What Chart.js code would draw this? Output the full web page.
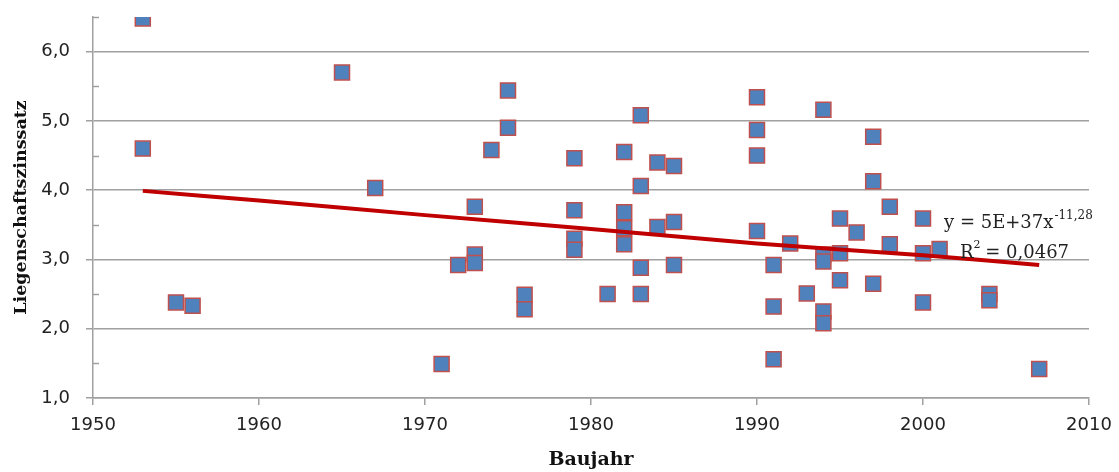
<!DOCTYPE html>
<html lang="de">
<head>
<meta charset="utf-8">
<title>Liegenschaftszinssatz nach Baujahr</title>
<script src="https://cdn.jsdelivr.net/npm/chart.js@4.4.1/dist/chart.umd.min.js"></script>
<style>
  html, body { margin: 0; padding: 0; background: #fff; }
  #wrap { width: 1119px; height: 472px; }
</style>
</head>
<body>
<div id="wrap"><canvas id="chart" width="1119" height="472"></canvas></div>
<script>
// Baujahr und Liegenschaftszinssatz je Objekt
const baujahr = [
  1953, 1953, 1955, 1956, 1965, 1967, 1971, 1972,
  1973, 1973, 1973, 1974, 1975, 1975, 1976, 1976,
  1979, 1979, 1979, 1979, 1981,
  1982, 1982, 1982, 1982,
  1983, 1983, 1983, 1983,
  1984, 1984, 1985, 1985, 1985,
  1990, 1990, 1990, 1990,
  1991, 1991, 1991, 1992, 1993,
  1994, 1994, 1994, 1994, 1994,
  1995, 1995, 1995, 1996,
  1997, 1997, 1997, 1998, 1998,
  2000, 2000, 2000, 2001, 2004, 2004, 2007
];
const zinssatz = [
  6.48, 4.60, 2.38, 2.33, 5.70, 4.03, 1.49, 2.92,
  3.76, 3.07, 2.95, 4.58, 5.44, 4.90, 2.49, 2.28,
  4.46, 3.71, 3.30, 3.14, 2.50,
  4.55, 3.68, 3.45, 3.22,
  5.08, 4.06, 2.88, 2.50,
  4.40, 3.47, 4.35, 3.54, 2.92,
  5.34, 4.87, 4.50, 3.41,
  2.92, 2.32, 1.56, 3.23, 2.51,
  5.16, 3.07, 2.97, 2.25, 2.08,
  3.59, 3.09, 2.70, 3.39,
  4.77, 4.13, 2.65, 3.76, 3.22,
  3.59, 3.09, 2.38, 3.15, 2.50, 2.41, 1.42
];

const trendJahre = [1953, 1960, 1970, 1980, 1990, 2000, 2007];
const trendWerte = [3.99, 3.85, 3.64, 3.44, 3.23, 3.06, 2.92];

const gleichung = 'y = 5E+37x';
const exponent = '-11,28';
const bestimmtheit = '0,0467';

const grau = '#a0a0a0';
const tickFont = { family: 'DejaVu Sans', size: 18 };
const titelFont = { family: 'DejaVu Serif', size: 17.5, weight: 'bold' };

function ganzzahlig(v) {
  return Math.abs(v - Math.round(v)) < 1e-6;
}

// kleine Hilfsstriche und Gleichung der Trendlinie
const extras = {
  id: 'extras',
  afterDraw(chart) {
    const ctx = chart.ctx;
    const y = chart.scales.y;
    const left = chart.chartArea.left;
    ctx.save();
    ctx.strokeStyle = grau;
    ctx.lineWidth = 1.5;
    y.ticks.forEach(t => {
      if (ganzzahlig(t.value)) return;
      const py = Math.round(y.getPixelForValue(t.value)) + 0.5;
      ctx.beginPath();
      ctx.moveTo(left, py);
      ctx.lineTo(left + 6, py);
      ctx.stroke();
    });

    ctx.fillStyle = '#222';
    ctx.textBaseline = 'alphabetic';
    ctx.font = '18px "DejaVu Serif"';
    ctx.fillText(gleichung, 944, 228);
    const w = ctx.measureText(gleichung).width;
    ctx.font = '12px "DejaVu Serif"';
    ctx.fillText(exponent, 944 + w + 1, 219);

    ctx.font = '18px "DejaVu Serif"';
    ctx.fillText('R', 960, 258);
    const wr = ctx.measureText('R').width;
    ctx.font = '11px "DejaVu Serif"';
    ctx.fillText('2', 960 + wr, 248);
    ctx.font = '18px "DejaVu Serif"';
    ctx.fillText(' = ' + bestimmtheit, 960 + wr + 6, 258);
    ctx.restore();
  }
};

new Chart(document.getElementById('chart'), {
  type: 'scatter',
  data: {
    datasets: [
      {
        type: 'line',
        label: 'Trend',
        data: trendJahre.map((x, i) => ({ x: x, y: trendWerte[i] })),
        borderColor: '#c00000',
        borderWidth: 4,
        pointRadius: 0,
        tension: 0.3,
        fill: false,
        order: 0
      },
      {
        label: 'Liegenschaftszinssatz',
        data: baujahr.map((x, i) => ({ x: x, y: zinssatz[i] })),
        pointStyle: 'rect',
        pointRadius: 10.6,
        backgroundColor: '#4f81bd',
        borderColor: '#c0504d',
        borderWidth: 1.5,
        order: 1
      }
    ]
  },
  options: {
    responsive: false,
    animation: false,
    layout: { padding: { left: 0, right: 30, top: 17, bottom: 0 } },
    plugins: {
      legend: { display: false },
      tooltip: { enabled: false }
    },
    scales: {
      x: {
        type: 'linear',
        min: 1950,
        max: 2010,
        ticks: {
          stepSize: 10,
          font: tickFont,
          color: '#222',
          padding: 10,
          callback: v => String(v)
        },
        grid: {
          drawOnChartArea: false,
          drawTicks: true,
          tickLength: 7,
          color: grau,
          lineWidth: 1.5
        },
        border: { color: grau, width: 1.5 },
        title: {
          display: true,
          text: 'Baujahr',
          font: { family: 'DejaVu Serif', size: 19, weight: 'bold' },
          color: '#111',
          padding: { top: 0, bottom: 1 }
        },
        afterFit(s) {
          s.height = 74;
          s.paddingLeft = 0;
          s.paddingRight = 0;
        }
      },
      y: {
        type: 'linear',
        min: 1,
        max: 6.5,
        ticks: {
          stepSize: 0.5,
          font: tickFont,
          color: '#222',
          padding: 16,
          callback: v => ganzzahlig(v) ? v.toFixed(1).replace('.', ',') : ''
        },
        grid: {
          color: c => c.tick && ganzzahlig(c.tick.value) ? grau : 'rgba(0,0,0,0)',
          tickColor: c => c.tick && ganzzahlig(c.tick.value) ? grau : 'rgba(0,0,0,0)',
          tickLength: 7,
          lineWidth: 1.5
        },
        border: { color: grau, width: 1.5 },
        title: {
          display: true,
          text: 'Liegenschaftszinssatz',
          font: titelFont,
          color: '#111',
          padding: { top: 11, bottom: 0 }
        },
        afterFit(s) {
          s.width = 93;
          s.paddingTop = 0;
          s.paddingBottom = 0;
        }
      }
    }
  },
  plugins: [extras]
});
</script>
</body>
</html>
